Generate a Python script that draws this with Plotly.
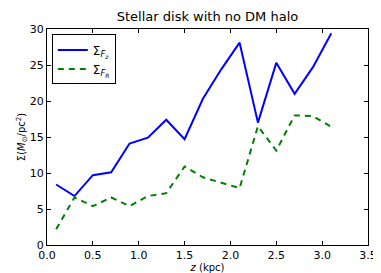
import plotly.graph_objects as go

z = [0.1, 0.3, 0.5, 0.7, 0.9, 1.1, 1.3, 1.5, 1.7, 1.9, 2.1, 2.3, 2.5, 2.7, 2.9, 3.1]
sigma_fz = [8.4, 6.8, 9.7, 10.1, 14.1, 14.9, 17.4, 14.7, 20.3, 24.4, 28.1, 17.0, 25.3, 21.0, 24.7, 29.4]
sigma_fr = [2.2, 6.6, 5.4, 6.6, 5.4, 6.8, 7.2, 10.9, 9.4, 8.7, 7.9, 16.5, 13.1, 18.0, 17.9, 16.4]

x_ticks = [0.0, 0.5, 1.0, 1.5, 2.0, 2.5, 3.0, 3.5]
x_ticklabels = ["0.0", "0.5", "1.0", "1.5", "2.0", "2.5", "3.0", "3.5"]
y_ticks = [0, 5, 10, 15, 20, 25, 30]

font = "DejaVu Sans, Arial, sans-serif"

fig = go.Figure()
fig.add_trace(go.Scatter(x=z, y=sigma_fz, mode="lines", name="Σ<sub><i>F<sub>z</sub></i></sub>",
                         line=dict(color="#0000ff", width=2)))
fig.add_trace(go.Scatter(x=z, y=sigma_fr, mode="lines", name="Σ<sub><i>F<sub>R</sub></i></sub>",
                         line=dict(color="#008000", width=2, dash="6px,5px")))

axis_common = dict(showgrid=False, zeroline=False, showline=True, linecolor="black", linewidth=1,
                   mirror="ticks", ticks="inside", ticklen=4, tickcolor="black",
                   tickfont=dict(family=font, size=11, color="black"))

fig.update_layout(
    width=381, height=273,
    margin=dict(l=39, r=14, t=21, b=35),
    paper_bgcolor="white", plot_bgcolor="white",
    title=dict(text="Stellar disk with no DM halo", xref="paper", x=0.5, xanchor="center",
               yref="container", y=0.985, yanchor="top",
               font=dict(family=font, size=13, color="black")),
    xaxis=dict(range=[0, 3.5], tickvals=x_ticks, ticktext=x_ticklabels,
               title=dict(text="<i>z</i> (kpc)", font=dict(family=font, size=10, color="black"), standoff=0),
               **axis_common),
    yaxis=dict(range=[0, 30], tickvals=y_ticks,
               title=dict(text="Σ(<i>M</i><sub>⊙</sub>/pc<sup>2</sup>)", font=dict(family=font, size=10, color="black"), standoff=2),
               **axis_common),
    legend=dict(x=0.015, y=0.975, xanchor="left", yanchor="top", bgcolor="white",
                bordercolor="black", borderwidth=1, font=dict(family=font, size=12, color="black"),
                tracegroupgap=4),
    showlegend=True,
)

fig.write_html("out.html")
